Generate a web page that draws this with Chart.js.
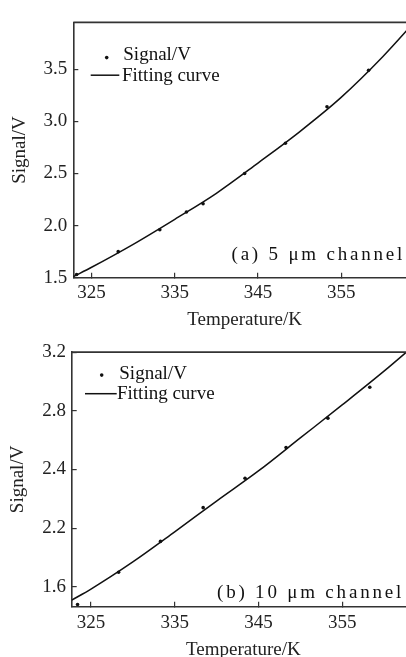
<!DOCTYPE html>
<html>
<head>
<meta charset="utf-8">
<script src="https://cdn.jsdelivr.net/npm/chart.js@4"></script>
<style>
    html, body { margin: 0; padding: 0; background: #fff; overflow: hidden; width: 406px; height: 657px; }
    .panel { position: absolute; left: 0; width: 420px; }
    #panel-a { top: 0; height: 335px; }
    #panel-b { top: 330px; height: 340px; }
</style>
</head>
<body>
<div class="panel" id="panel-a"><canvas id="chart-a" width="420" height="335"></canvas></div>
<div class="panel" id="panel-b"><canvas id="chart-b" width="420" height="340"></canvas></div>
<script>
// ==================== Data ====================

// (a) 5 um channel
const tempA = [323.2, 328.2, 333.2, 336.4, 338.4, 343.4, 348.3, 353.3, 358.3];
const signalA = [1.53, 1.75, 1.96, 2.13, 2.21, 2.50, 2.79, 3.14, 3.49];
const fitTempA = [322.8, 325, 330, 335, 340, 345, 350, 355, 360, 364];
const fitSignalA = [1.51, 1.60, 1.82, 2.06, 2.31, 2.60, 2.90, 3.23, 3.62, 3.97];
const yTicksA = [1.5, 2.0, 2.5, 3.0, 3.5];
const yLabelsA = ['1.5', '2.0', '2.5', '3.0', '3.5'];

// (b) 10 um channel
const tempB = [323.4, 328.3, 333.3, 338.4, 343.4, 348.3, 353.3, 358.3];
const signalB = [1.48, 1.70, 1.91, 2.14, 2.34, 2.55, 2.75, 2.96];
const fitTempB = [322.7, 325, 330, 335, 340, 345, 350, 355, 360, 363.7];
const fitSignalB = [1.51, 1.585, 1.77, 1.975, 2.185, 2.39, 2.615, 2.84, 3.07, 3.25];
const yTicksB = [1.6, 2.0, 2.4, 2.8, 3.2];
const yLabelsB = ['1.6', '2.2', '2.4', '2.8', '3.2'];   // as printed in the figure

const xTicks = [325, 335, 345, 355];
const xLabels = ['325', '335', '345', '355'];

const FONT = 'Liberation Serif, Times New Roman, serif';
const INK = '#222';

// ==================== Plugins ====================

// top frame line + in-plot legend + panel caption
const panelDecor = {
    id: 'panelDecor',
    afterDatasetsDraw(chart, args, opts) {
        const { ctx, chartArea: a } = chart;
        ctx.save();
        ctx.strokeStyle = '#333';
        ctx.lineWidth = 1.6;
        ctx.beginPath();
        ctx.moveTo(a.left, a.top);
        ctx.lineTo(a.right, a.top);
        ctx.stroke();

        const lg = opts.legend;
        const ds = chart.data.datasets;
        ctx.font = `19px ${FONT}`;
        ctx.fillStyle = '#111';
        ctx.textAlign = 'left';
        ctx.textBaseline = 'alphabetic';
        ctx.beginPath();
        ctx.arc(a.left + lg.dotX, a.top + lg.dotY, 1.8, 0, Math.PI * 2);
        ctx.fill();
        ctx.fillText(ds[0].label, a.left + lg.text1X, a.top + lg.text1Y);
        ctx.strokeStyle = '#111';
        ctx.lineWidth = 1.5;
        ctx.beginPath();
        ctx.moveTo(a.left + lg.lineX1, a.top + lg.lineY);
        ctx.lineTo(a.left + lg.lineX2, a.top + lg.lineY);
        ctx.stroke();
        ctx.fillText(ds[1].label, a.left + lg.text2X, a.top + lg.text2Y);

        ctx.letterSpacing = '2.8px';
        ctx.fillText(opts.caption, opts.captionX, a.bottom - opts.captionDy);
        ctx.restore();
    }
};

// ==================== Charts ====================

function buildPanel(canvasId, cfg) {
    const ctx = document.getElementById(canvasId).getContext('2d');
    return new Chart(ctx, {
        type: 'scatter',
        data: {
            datasets: [{
                label: 'Signal/V',
                data: cfg.temps.map((t, i) => ({ x: t, y: cfg.signals[i] })),
                pointRadius: 1.8,
                pointBackgroundColor: '#111',
                pointBorderWidth: 0,
                showLine: false
            }, {
                label: 'Fitting curve',
                data: cfg.fitTemps.map((t, i) => ({ x: t, y: cfg.fitSignals[i] })),
                showLine: true,
                borderColor: '#111',
                borderWidth: 1.5,
                pointRadius: 0,
                cubicInterpolationMode: 'monotone'
            }]
        },
        options: {
            responsive: false,
            animation: false,
            layout: { padding: { top: cfg.padTop, right: cfg.padRight, bottom: 0, left: 0 } },
            plugins: {
                legend: { display: false },
                tooltip: { enabled: false },
                panelDecor: {
                    legend: cfg.legend,
                    caption: cfg.caption,
                    captionX: cfg.captionX,
                    captionDy: cfg.captionDy
                }
            },
            scales: {
                x: {
                    type: 'linear',
                    min: cfg.xMin,
                    max: cfg.xMax,
                    afterBuildTicks: s => { s.ticks = xTicks.map(v => ({ value: v })); },
                    afterFit: s => { s.height = cfg.xHeight; },
                    border: { color: '#333', width: 1.6 },
                    grid: { drawOnChartArea: false, tickLength: -5, color: '#333', lineWidth: 1.2 },
                    ticks: {
                        color: INK, padding: cfg.xTickPad, maxRotation: 0,
                        font: { family: FONT, size: 19 },
                        callback: v => xLabels[xTicks.indexOf(v)]
                    },
                    title: {
                        display: true, text: 'Temperature/K', color: INK,
                        font: { family: FONT, size: 19 },
                        padding: { top: 0, bottom: cfg.xTitlePad }
                    }
                },
                y: {
                    min: cfg.yMin,
                    max: cfg.yMax,
                    afterBuildTicks: s => { s.ticks = cfg.yTicks.map(v => ({ value: v })); },
                    afterFit: s => { s.width = cfg.yWidth; },
                    border: { color: '#333', width: 1.6 },
                    grid: { drawOnChartArea: false, tickLength: -5, color: '#333', lineWidth: 1.2 },
                    ticks: {
                        color: INK, padding: cfg.yTickPad,
                        font: { family: FONT, size: 19 },
                        callback: v => cfg.yLabels[cfg.yTicks.indexOf(v)]
                    },
                    title: {
                        display: true, text: 'Signal/V', color: INK,
                        font: { family: FONT, size: 19 },
                        padding: { top: cfg.yTitlePad, bottom: 0 }
                    }
                }
            }
        },
        plugins: [panelDecor]
    });
}

buildPanel('chart-a', {
    temps: tempA, signals: signalA, fitTemps: fitTempA, fitSignals: fitSignalA,
    yTicks: yTicksA, yLabels: yLabelsA,
    xMin: 322.8, xMax: 364, yMin: 1.5, yMax: 3.95,
    padTop: 12.5, padRight: 2.3, xHeight: 57.3, yWidth: 73.3,
    xTickPad: 9, xTitlePad: 3.6, yTickPad: 11, yTitlePad: 8.6,
    legend: { dotX: 33.4, dotY: 35.2, text1X: 50, text1Y: 37.5, lineX1: 17.4, lineX2: 46, lineY: 52.8, text2X: 48.7, text2Y: 58.2 },
    caption: '(a) 5 μm channel', captionX: 231.5, captionDy: 18.2
});

buildPanel('chart-b', {
    temps: tempB, signals: signalB, fitTemps: fitTempB, fitSignals: fitSignalB,
    yTicks: yTicksB, yLabels: yLabelsB,
    xMin: 322.7, xMax: 363.7, yMin: 1.465, yMax: 3.2,
    padTop: 12.7, padRight: 5, xHeight: 63.3, yWidth: 71.7,
    xTickPad: 10, xTitlePad: 8.6, yTickPad: 10.7, yTitlePad: 6.9,
    legend: { dotX: 30, dotY: 23, text1X: 47.6, text1Y: 26.6, lineX1: 13.3, lineX2: 45, lineY: 41.6, text2X: 45.3, text2Y: 47.3 },
    caption: '(b) 10 μm channel', captionX: 217, captionDy: 8.4
});
</script>
</body>
</html>
